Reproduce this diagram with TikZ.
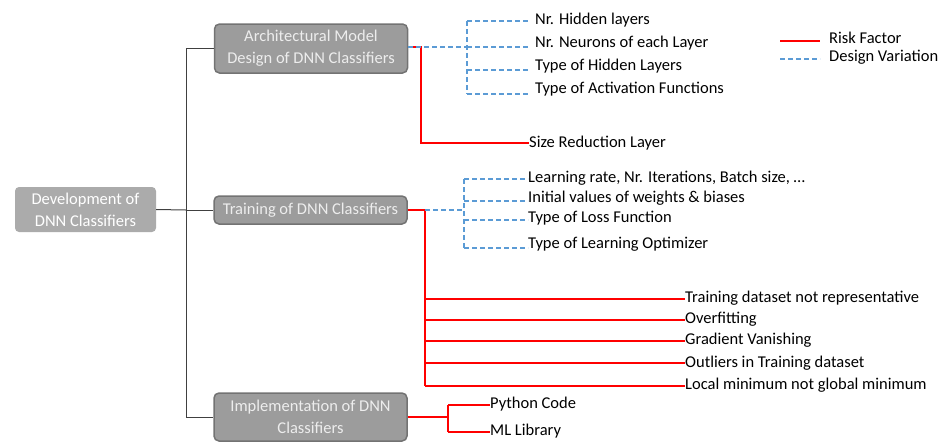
\documentclass[tikz,border=0pt]{standalone}
\usepackage{fontspec}
\setmainfont{Carlito}
\begin{document}
\begin{tikzpicture}[x=1pt,y=-1pt,
  rootbox/.style={fill=rootgray, text=white, rounded corners=4pt, minimum width=141pt, minimum height=45pt, align=center, inner sep=0pt, font=\fontsize{16.5}{22}\selectfont},
  catbox/.style={fill=boxgray, draw=bordergray, line width=1.5pt, text=textgray, rounded corners=5pt, minimum width=193pt, align=center, inner sep=0pt, font=\fontsize{16.5}{22}\selectfont},
  leaf/.style={anchor=west, inner sep=0pt, font=\fontsize{16.5}{18}\selectfont},
  risk/.style={draw=riskred, line width=2.5pt},
  design/.style={draw=designblue, line width=2pt, dash pattern=on 5pt off 3pt},
  tree/.style={draw=treegray, line width=1pt}
]
\definecolor{rootgray}{HTML}{ABABAB}
\definecolor{boxgray}{HTML}{9C9C9C}
\definecolor{bordergray}{HTML}{737373}
\definecolor{textgray}{HTML}{EDEDED}
\definecolor{riskred}{HTML}{FF0000}
\definecolor{designblue}{HTML}{5B9BD5}
\definecolor{treegray}{HTML}{404040}
\useasboundingbox (0,0) rectangle (944,442);

% root and categories
\node[rootbox] (root) at (85.5,209.5) {Development of\\DNN Classifiers};
\node[catbox, minimum height=49pt] (arch) at (311,48.5) {Architectural Model\\Design of DNN Classifiers};
\node[catbox, minimum height=28pt] (train) at (310.5,210) {Training of DNN Classifiers};
\node[catbox, minimum height=48pt] (impl) at (310.5,417) {Implementation of DNN\\Classifiers};

% tree connectors
\coordinate (tj) at (186,210);
\coordinate (ta) at (186,48.5);
\coordinate (tc) at (186,417);
\draw[tree] (root.east) -- (tj);
\draw[tree] (ta) -- (tc);
\draw[tree] (ta) -- (arch.west);
\draw[tree] (tj) -- (train.west);
\draw[tree] (tc) -- (impl.west);

% architecture leaves
\node[leaf] (a1) at (535,20) {Nr. Hidden layers};
\node[leaf] (a2) at (535,43) {Nr. Neurons of each Layer};
\node[leaf] (a3) at (535,66) {Type of Hidden Layers};
\node[leaf] (a4) at (535,89) {Type of Activation Functions};
\node[leaf] (a5) at (529,143) {Size Reduction Layer};
\coordinate (ab) at (467,47);
\draw[risk] (arch.east |- ab) -- (421,47) -- (421,143) -- (a5.west);
\draw[design] (arch.east |- ab) -- (ab);
\draw[design] (467,21) -- (467,94);
\draw[design] (467,21) -- (528,21);
\draw[design] (467,47) -- (528,47);
\draw[design] (467,70) -- (528,70);
\draw[design] (467,94) -- (528,94);

% training leaves
\node[leaf] (b1) at (528,178) {Learning rate, Nr. Iterations, Batch size, \ldots};
\node[leaf] (b2) at (528,198) {Initial values of weights \& biases};
\node[leaf] (b3) at (528,218) {Type of Loss Function};
\node[leaf] (b4) at (528,244) {Type of Learning Optimizer};
\coordinate (bb) at (464,210);
\draw[risk] (train.east) -- (425,210) -- (425,386);
\draw[design] (425,210) -- (bb);
\draw[design] (464,179) -- (464,248);
\draw[design] (464,179) -- (b1.west |- 0,179);
\draw[design] (464,201) -- (b2.west |- 0,201);
\draw[design] (464,220) -- (b3.west |- 0,220);
\draw[design] (464,248) -- (b4.west |- 0,248);

\node[leaf] (r1) at (685,298) {Training dataset not representative};
\node[leaf] (r2) at (685,319) {Overfitting};
\node[leaf] (r3) at (685,340) {Gradient Vanishing};
\node[leaf] (r4) at (685,363) {Outliers in Training dataset};
\node[leaf] (r5) at (685,385) {Local minimum not global minimum};
\draw[risk] (425,299) -- (r1.west |- 0,299);
\draw[risk] (425,320) -- (r2.west |- 0,320);
\draw[risk] (425,341) -- (r3.west |- 0,341);
\draw[risk] (425,363) -- (r4.west |- 0,363);
\draw[risk] (425,386) -- (r5.west |- 0,386);

% implementation leaves
\node[leaf] (c1) at (490,404) {Python Code};
\node[leaf] (c2) at (490,431) {ML Library};
\draw[risk] (impl.east) -- (448,417);
\draw[risk] (448,405) -- (448,432);
\draw[risk] (448,405) -- (c1.west |- 0,405);
\draw[risk] (448,432) -- (c2.west |- 0,432);

% legend
\coordinate (l1a) at (780,41);
\coordinate (l2a) at (780,59);
\node[leaf] (lr) at (829,38) {Risk Factor};
\node[leaf] (ld) at (829,57) {Design Variation};
\draw[risk] (l1a) -- (820,41);
\draw[design] (l2a) -- (820,59);
\end{tikzpicture}
\end{document}
